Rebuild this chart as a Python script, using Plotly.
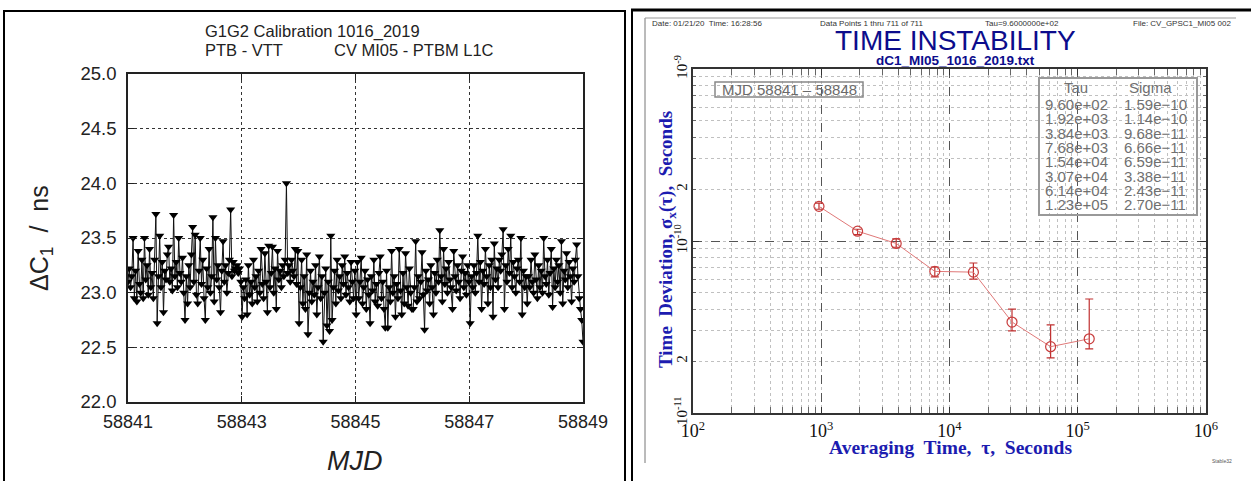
import numpy as np
import plotly.graph_objects as go

W, H = 1251, 481

# ---------------- Left panel data (ΔC1 / ns vs MJD) ----------------
start_mjd = 58841.0
end_mjd = 58849.0
day1 = [23.10, 23.22, 23.05, 23.15, 23.50, 22.95, 23.20, 22.92, 23.38, 23.08, 23.00, 23.30, 22.95, 23.50, 23.12,
        23.25, 22.98, 23.40, 23.05, 23.18, 22.95, 23.30, 23.72, 22.72, 23.15, 23.52, 23.05, 23.28, 22.82, 23.20,
        23.12, 23.35, 23.42, 23.10, 23.22, 23.02, 23.71, 23.15, 23.28, 23.05, 23.50, 23.18, 23.10, 23.32, 23.00]
day2 = [22.75, 23.15, 22.90, 23.25, 23.05, 23.35, 23.60, 23.10, 23.53, 22.98, 22.90, 23.20, 23.50, 23.08, 23.30,
        22.95, 22.75, 23.22, 23.05, 23.40, 23.00, 23.15, 23.69, 22.92, 23.50, 23.12, 23.25, 23.05, 22.82, 23.20,
        23.47, 23.10, 23.25, 23.00, 23.18, 23.30, 23.76, 23.15, 23.28, 23.20, 23.22, 23.25, 23.18, 23.22, 23.10]
day3 = [22.78, 23.05, 22.95, 23.12, 22.80, 23.25, 22.98, 23.10, 22.90, 23.30, 23.05, 23.15, 22.92, 23.20, 23.00,
        23.40, 23.08, 22.95, 23.36, 23.10, 22.82, 23.43, 23.05, 23.18, 23.42, 23.00, 23.22, 22.85, 23.38, 23.12,
        23.20, 23.05, 23.25, 23.15, 23.30, 24.00, 23.18, 23.25, 23.10, 23.30, 23.20, 23.15, 23.40, 23.08, 23.38]
day4 = [22.72, 23.05, 23.30, 22.90, 23.15, 22.85, 23.35, 22.62, 23.00, 23.20, 22.92, 23.10, 22.98, 23.25, 22.80,
        23.05, 23.33, 22.95, 23.15, 22.55, 23.00, 23.22, 22.70, 23.10, 22.65, 23.52, 22.75, 23.05, 23.20, 22.90,
        23.30, 23.02, 23.15, 22.95, 23.25, 23.08, 23.33, 22.98, 23.18, 23.05, 22.92, 23.28, 23.10, 22.95, 23.20]
day5 = [22.80, 23.28, 22.95, 23.10, 23.32, 22.90, 23.05, 23.20, 22.85, 23.12, 22.98, 22.72, 23.15, 23.02, 23.30,
        22.92, 23.08, 22.88, 23.18, 23.33, 22.95, 23.10, 22.85, 22.68, 23.20, 22.68, 23.05, 22.92, 23.38, 23.00,
        23.15, 22.78, 23.08, 22.95, 23.40, 23.02, 22.80, 23.18, 22.90, 23.36, 23.05, 22.88, 23.22, 23.00, 22.85]
day6 = [22.85, 23.05, 23.47, 22.92, 23.15, 22.95, 23.10, 23.37, 22.98, 22.66, 23.20, 23.02, 23.12, 22.90, 23.25,
        23.05, 22.80, 23.18, 23.00, 23.30, 23.10, 23.57, 23.15, 22.92, 23.40, 23.08, 23.22, 23.00, 23.28, 23.12,
        23.05, 22.85, 23.38, 23.15, 23.02, 23.25, 23.10, 22.95, 23.20, 23.33, 23.05, 23.18, 22.98, 23.25, 23.10]
day7 = [22.72, 23.15, 23.05, 23.25, 23.00, 23.18, 23.52, 23.10, 23.28, 22.85, 23.20, 23.08, 23.40, 23.15, 22.90,
        23.25, 23.05, 23.30, 22.78, 23.45, 23.12, 23.22, 23.05, 23.30, 23.20, 23.35, 23.58, 22.85, 23.25, 23.10,
        23.40, 23.18, 23.52, 23.05, 23.28, 23.15, 23.00, 23.22, 23.30, 23.10, 23.50, 22.80, 23.20, 23.05, 23.15]
day8 = [22.90, 23.15, 23.05, 23.30, 23.10, 23.00, 23.35, 23.12, 22.95, 23.25, 23.05, 23.20, 23.00, 23.50, 23.15,
        23.08, 23.30, 22.98, 23.18, 23.40, 22.87, 23.22, 23.05, 23.30, 23.10, 23.25, 23.00, 23.47, 22.90, 23.20,
        23.12, 23.36, 23.05, 23.28, 23.15, 22.92, 23.22, 23.10, 23.30, 23.44, 23.15, 22.95, 22.85, 22.75, 22.55]
dc1_ns = day1 + day2 + day3 + day4 + day5 + day6 + day7 + day8
mjd = np.linspace(start_mjd, end_mjd, len(dc1_ns))

left_x_ticks = [58841, 58843, 58845, 58847, 58849]
left_y_ticks = [22.0, 22.5, 23.0, 23.5, 24.0, 24.5, 25.0]

# ---------------- Right panel data (time deviation) ----------------
tau_s = [960, 1920, 3840, 7680, 15360, 30720, 61440, 122880]
sigma_x = [1.59e-10, 1.14e-10, 9.68e-11, 6.66e-11, 6.59e-11, 3.38e-11, 2.43e-11, 2.70e-11]
sigma_hi = [1.66e-10, 1.17e-10, 1.03e-10, 7.06e-11, 7.45e-11, 4.02e-11, 3.25e-11, 4.60e-11]
sigma_lo = [1.53e-10, 1.09e-10, 9.20e-11, 6.18e-11, 6.01e-11, 3.00e-11, 2.09e-11, 2.36e-11]
tau_labels = ["9.60e+02", "1.92e+03", "3.84e+03", "7.68e+03", "1.54e+04", "3.07e+04", "6.14e+04", "1.23e+05"]
sigma_labels = ["1.59e\u221210", "1.14e\u221210", "9.68e\u221211", "6.66e\u221211",
                "6.59e\u221211", "3.38e\u221211", "2.43e\u221211", "2.70e\u221211"]
right_x_ticks = [1e2, 1e3, 1e4, 1e5, 1e6]
right_x_text = ["10<sup>2</sup>", "10<sup>3</sup>", "10<sup>4</sup>", "10<sup>5</sup>", "10<sup>6</sup>"]
right_y_ticks = [1e-11, 2e-11, 1e-10, 2e-10, 1e-9]
right_y_text = ["10<sup>-11</sup>", "2", "10<sup>-10</sup>", "2", "10<sup>-9</sup>"]


def px(x):
    return x / W


def py(y):
    return 1 - y / H


fig = go.Figure()

fig.add_trace(go.Scatter(
    x=mjd, y=dc1_ns, mode="lines+markers",
    line=dict(color="#111111", width=1),
    marker=dict(symbol="triangle-down", size=8, color="#000000"),
    xaxis="x", yaxis="y", showlegend=False,
))

err_plus = [h - s for h, s in zip(sigma_hi, sigma_x)]
err_minus = [s - l for s, l in zip(sigma_x, sigma_lo)]
fig.add_trace(go.Scatter(
    x=tau_s, y=sigma_x, mode="lines+markers",
    line=dict(color="#e07878", width=1),
    marker=dict(symbol="circle-open", size=10, color="#c83c3c", line=dict(width=1.2)),
    error_y=dict(type="data", array=err_plus, arrayminus=err_minus, color="#c03030", thickness=1.2, width=4),
    xaxis="x2", yaxis="y2", showlegend=False,
))

sans = "Liberation Sans, Arial, sans-serif"
serif = "Liberation Serif, Times New Roman, serif"
blue = "#1c1cb0"

annotations = []


def ann(text, x, y, size, color="#000", family=sans, xanchor="center", yanchor="middle", angle=0):
    annotations.append(dict(text=text, x=px(x), y=py(y), xref="paper", yref="paper",
                            xanchor=xanchor, yanchor=yanchor, showarrow=False, textangle=angle,
                            borderpad=0,
                            font=dict(size=size, color=color, family=family)))


# Left panel texts
ann("G1G2 Calibration 1016_2019", 204, 31, 16.5, "#222", xanchor="left")
ann("PTB - VTT", 204, 50, 16.5, "#222", xanchor="left")
ann("CV MI05 - PTBM L1C", 333, 50, 16.5, "#222", xanchor="left")
ann("\u0394C<sub>1</sub>  /  ns", 41, 238, 25, "#222", angle=-90)
ann("<i>MJD</i>", 355, 461, 27, "#222")

# Right panel texts
ann("Date: 01/21/20  Time: 16:28:56", 651, 23, 8, "#333", xanchor="left")
ann("Data Points 1 thru 711 of 711", 819, 23, 8, "#333", xanchor="left")
ann("Tau=9.6000000e+02", 984, 23, 8, "#333", xanchor="left")
ann("File: CV_GPSC1_MI05 002", 1132, 23, 8, "#333", xanchor="left")
ann("TIME INSTABILITY", 955, 41, 28, "#0c0c8c")
ann("<b>dC1_MI05_1016_2019.txt</b>", 956, 61, 13.5, "#0c0c8c")
ann("<b>Time  Deviation, \u03c3<sub>x</sub>(\u03c4),  Seconds</b>", 667, 240, 19, blue, family=serif, angle=-90)
ann("<b>Averaging  Time,  \u03c4,  Seconds</b>", 950, 447, 19.5, blue, family=serif)
ann("Stable32", 1222, 461, 5, "#555")
ann("MJD 58841 \u2013 58848", 789, 89.5, 15, "#6a6a6a")
ann("Tau", 1076, 87, 15, "#707070")
ann("Sigma", 1150, 87, 15, "#707070")
for i, (t, s) in enumerate(zip(tau_labels, sigma_labels)):
    yy = 104.5 + i * 14.3
    ann(t, 1044, yy, 15, "#707070", xanchor="left")
    ann(s, 1123, yy, 15, "#707070", xanchor="left")

shapes = []


def line(x0, y0, x1, y1, color="#000", width=2):
    shapes.append(dict(type="line", xref="paper", yref="paper", x0=px(x0), y0=py(y0), x1=px(x1), y1=py(y1),
                       line=dict(color=color, width=width)))


line(4, 10, 4, 481)
line(3, 11, 625, 11)
line(625, 10, 625, 481)
line(632, 10, 632, 481)
line(631, 10, 1251, 10, width=3)
line(645, 18, 645, 463, "#777", 1)
line(645, 18, 1236, 18, "#999", 1)
shapes.append(dict(type="rect", xref="paper", yref="paper", x0=px(715), x1=px(863), y0=py(97), y1=py(82),
                   line=dict(color="#888", width=1.5)))
shapes.append(dict(type="rect", xref="paper", yref="paper", x0=px(1039), x1=px(1197), y0=py(215), y1=py(78),
                   line=dict(color="#999", width=2)))

fig.update_layout(
    width=W, height=H,
    margin=dict(l=0, r=0, t=0, b=0, autoexpand=False),
    paper_bgcolor="white", plot_bgcolor="white",
    showlegend=False,
    annotations=annotations,
    shapes=shapes,
    xaxis=dict(domain=[px(128), px(583)], range=[start_mjd, end_mjd], tickmode="array",
               tickvals=left_x_ticks, ticktext=[str(v) for v in left_x_ticks], automargin=False,
               showline=True, linecolor="#222", linewidth=1.5, mirror="allticks",
               ticks="inside", ticklen=6, tickcolor="#222", ticklabelstandoff=3,
               showgrid=True, gridcolor="#333", griddash="dot", gridwidth=1.3, zeroline=False,
               tickfont=dict(family=sans, size=18, color="#222"), anchor="y"),
    yaxis=dict(domain=[py(402), py(74)], range=[22.0, 25.0], tickmode="array",
               tickvals=left_y_ticks, ticktext=["%.1f" % v for v in left_y_ticks], automargin=False,
               showline=True, linecolor="#222", linewidth=1.5, mirror="allticks",
               ticks="inside", ticklen=6, tickcolor="#222", ticklabelstandoff=6,
               showgrid=True, gridcolor="#333", griddash="dot", gridwidth=1.3, zeroline=False,
               tickfont=dict(family=sans, size=18.5, color="#222"), anchor="x"),
    xaxis2=dict(domain=[px(693), px(1206)], type="log", range=[2, 6], tickmode="array",
                tickvals=right_x_ticks, ticktext=right_x_text, automargin=False,
                showline=True, linecolor="#333", linewidth=1.5, mirror="allticks",
                ticks="inside", ticklen=6, tickcolor="#333", ticklabelstandoff=1,
                showgrid=True, gridcolor="#555", griddash="dash", gridwidth=1,
                minor=dict(ticks="inside", ticklen=3, tickcolor="#666", showgrid=True, dtick="D1",
                           gridcolor="#c0c0c0", griddash="dot", gridwidth=1),
                tickfont=dict(family=serif, size=18, color="#111"), anchor="y2", zeroline=False),
    yaxis2=dict(domain=[py(413), py(69)], type="log", range=[-11, -9], tickmode="array",
                tickvals=[1e-11, 1e-10, 1e-9], ticktext=["", "", ""], automargin=False,
                showline=True, linecolor="#333", linewidth=1.5, mirror="allticks",
                ticks="inside", ticklen=6, tickcolor="#333",
                showgrid=True, gridcolor="#555", griddash="dash", gridwidth=1,
                minor=dict(ticks="inside", ticklen=3, tickcolor="#666", showgrid=True, dtick="D1",
                           gridcolor="#c0c0c0", griddash="dot", gridwidth=1),
                tickfont=dict(family=serif, size=15, color="#111"), anchor="x2", zeroline=False),
    yaxis3=dict(overlaying="y2", type="log", range=[-11, -9], tickmode="array", automargin=False,
                tickvals=right_y_ticks, ticktext=right_y_text, tickangle=-90,
                showgrid=False, showline=False, ticks="", zeroline=False, anchor="x2", side="left",
                ticklabelstandoff=2,
                tickfont=dict(family=serif, size=15, color="#111")),
)

# invisible trace so the overlay label axis is drawn
fig.add_trace(go.Scatter(x=[tau_s[0]], y=[sigma_x[0]], xaxis="x2", yaxis="y3", mode="markers",
                         marker=dict(opacity=0), hoverinfo="skip", showlegend=False))

fig.write_html("out.html")
